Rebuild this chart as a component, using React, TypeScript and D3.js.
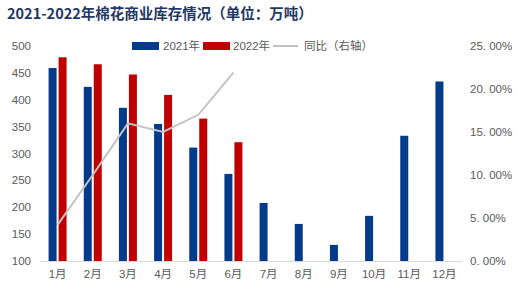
import { useRef, useEffect } from 'react'
import * as d3 from 'd3'

const MONTHS = ['1月', '2月', '3月', '4月', '5月', '6月', '7月', '8月', '9月', '10月', '11月', '12月']
const STOCK_2021 = [459, 424, 385, 355, 311, 262, 208, 169, 130, 184, 333, 434]
const STOCK_2022 = [479, 466, 447, 409, 365, 321]
const YOY = [4.2, 10.0, 16.0, 15.0, 17.0, 21.9]
const LEFT_TICKS = [100, 150, 200, 250, 300, 350, 400, 450, 500]
const RIGHT_TICKS = [0, 5, 10, 15, 20, 25]

const BLUE = '#033a8a'
const RED = '#c00000'
const GREY_LINE = '#c3c3c3'
const TXT = '#595959'
const FONT = '"Liberation Sans", Arial, "Noto Sans CJK SC", sans-serif'

export default function App() {
  const svgRef = useRef<SVGSVGElement>(null)

  useEffect(() => {
    if (!svgRef.current) return
    const W = 522
    const H = 295
    const m = { top: 46, right: 60, bottom: 34, left: 40 }
    const iW = W - m.left - m.right
    const iH = H - m.top - m.bottom

    const svg = d3.select(svgRef.current)
    svg.selectAll('*').remove()

    // title
    svg.append('text')
      .attr('x', 7).attr('y', 19)
      .attr('fill', '#1f3864')
      .attr('font-size', '14.5px').attr('font-weight', 'bold')
      .attr('font-family', '"Noto Sans CJK SC", sans-serif')
      .text('2021-2022年棉花商业库存情况（单位：万吨）')

    const g = svg.append('g').attr('transform', `translate(${m.left},${m.top})`)

    const x = d3.scaleBand<string>().domain(MONTHS).range([0, iW]).paddingInner(0).paddingOuter(0)
    const sub = d3.scaleBand<string>().domain(['2021', '2022']).range([0, x.bandwidth()]).paddingInner(0.2).paddingOuter(0.86)
    const y = d3.scaleLinear().domain([100, 500]).range([iH, 0])
    const yR = d3.scaleLinear().domain([0, 25]).range([iH, 0])

    // left tick labels
    g.append('g').selectAll('text').data(LEFT_TICKS).enter().append('text')
      .attr('x', -9).attr('y', d => y(d)).attr('dy', '0.35em')
      .attr('text-anchor', 'end').attr('fill', TXT)
      .attr('font-size', '11.5px').attr('font-family', FONT)
      .text(d => String(d))

    // right tick labels
    g.append('g').selectAll('text').data(RIGHT_TICKS).enter().append('text')
      .attr('x', iW + 8).attr('y', d => yR(d)).attr('dy', '0.35em')
      .attr('text-anchor', 'start').attr('fill', TXT)
      .attr('font-size', '11.5px').attr('font-family', FONT)
      .text(d => d3.format('.2f')(d).replace('.', '. ') + '%')

    // bars
    g.append('g').selectAll('rect').data(STOCK_2021).enter().append('rect')
      .attr('x', (_, i) => x(MONTHS[i])! + sub('2021')!)
      .attr('y', d => y(d))
      .attr('width', sub.bandwidth())
      .attr('height', d => iH - y(d))
      .attr('fill', BLUE)

    g.append('g').selectAll('rect').data(STOCK_2022).enter().append('rect')
      .attr('x', (_, i) => x(MONTHS[i])! + sub('2022')!)
      .attr('y', d => y(d))
      .attr('width', sub.bandwidth())
      .attr('height', d => iH - y(d))
      .attr('fill', RED)

    // x axis line
    g.append('line')
      .attr('x1', 0).attr('x2', iW).attr('y1', iH + 0.5).attr('y2', iH + 0.5)
      .attr('stroke', '#d9d9d9').attr('stroke-width', 1)

    // month labels
    g.append('g').selectAll('text').data(MONTHS).enter().append('text')
      .attr('x', d => x(d)! + x.bandwidth() / 2).attr('y', iH + 17)
      .attr('text-anchor', 'middle').attr('fill', TXT)
      .attr('font-size', '11.5px').attr('font-family', FONT)
      .text(d => d)

    // yoy line
    const line = d3.line<number>()
      .x((_, i) => x(MONTHS[i])! + x.bandwidth() / 2)
      .y(d => yR(d))
    g.append('path').datum(YOY)
      .attr('d', line)
      .attr('fill', 'none').attr('stroke', GREY_LINE).attr('stroke-width', 2)

    // legend
    const lg = svg.append('g').attr('transform', 'translate(0,46)')
    lg.append('rect').attr('x', 132).attr('y', -4).attr('width', 27).attr('height', 8).attr('fill', BLUE)
    lg.append('text').attr('x', 163).attr('y', 0).attr('dy', '0.35em')
      .attr('fill', TXT).attr('font-size', '11.5px').attr('font-family', FONT).text('2021年')
    lg.append('rect').attr('x', 203).attr('y', -4).attr('width', 27).attr('height', 8).attr('fill', RED)
    lg.append('text').attr('x', 233).attr('y', 0).attr('dy', '0.35em')
      .attr('fill', TXT).attr('font-size', '11.5px').attr('font-family', FONT).text('2022年')
    lg.append('line').attr('x1', 273).attr('x2', 298).attr('y1', 0).attr('y2', 0)
      .attr('stroke', GREY_LINE).attr('stroke-width', 2)
    lg.append('text').attr('x', 304).attr('y', 0).attr('dy', '0.35em')
      .attr('fill', TXT).attr('font-size', '11.5px').attr('font-family', FONT).text('同比（右轴）')

    return () => { svg.selectAll('*').remove() }
  }, [])

  return (
    <svg
      ref={svgRef}
      width={522}
      height={295}
      style={{ position: 'absolute', left: 0, top: 0, background: '#fff', display: 'block' }}
    />
  )
}
